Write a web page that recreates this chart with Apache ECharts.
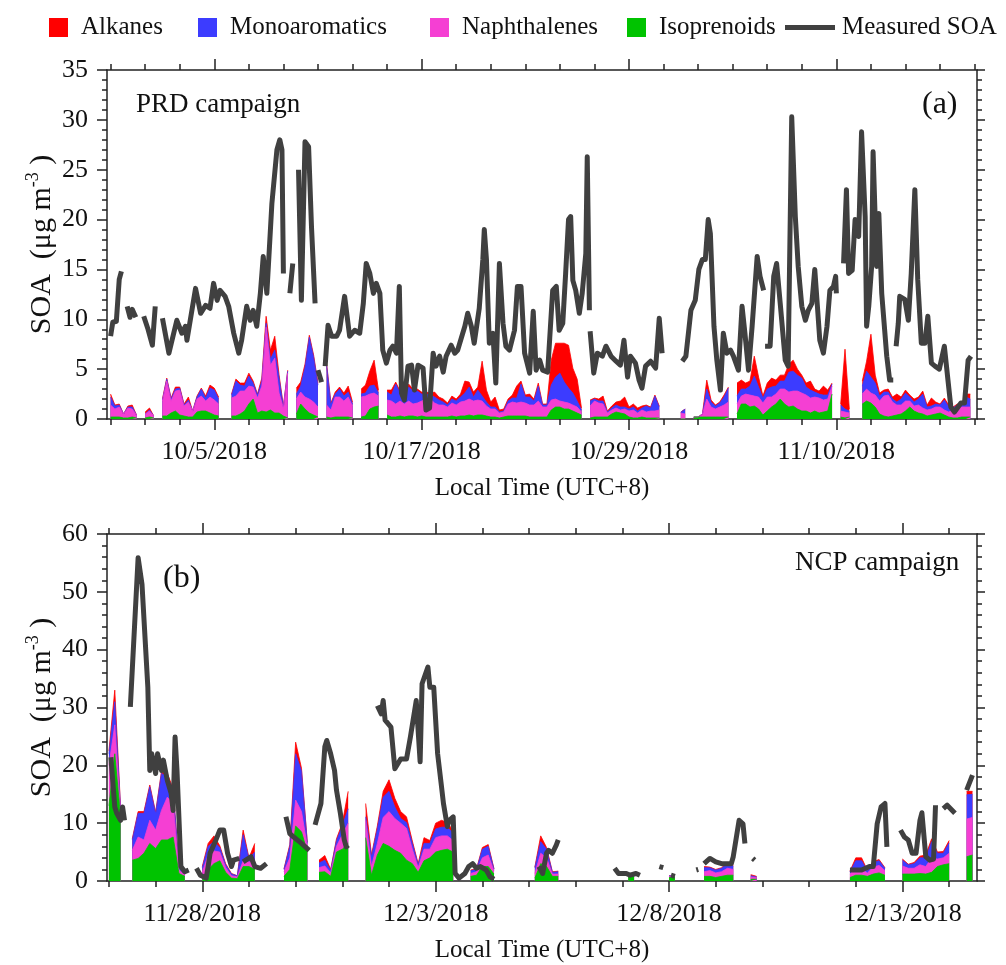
<!DOCTYPE html>
<html><head><meta charset="utf-8">
<script src="https://cdn.jsdelivr.net/npm/echarts@6/dist/echarts.min.js"></script>
<style>html,body{margin:0;padding:0;background:#fff}#c{width:1006px;height:965px}</style>
</head><body><div id="c"></div>
<script>
const _ = null;

// ---------- PRD campaign (panel a) ----------
// modelled SOA components, one value every 6 h starting 2018-09-29 00:00 local time
const prdStart = '9/29/2018';
const prdStepHours = 6;
const prdIsoprenoids = [
 .2,.2,.2,.1,.1,.2,.1,_,.1,.2,.1,_,.3,.3,.6,.8,.4,.3,.2,.2,
 .7,.8,.8,.6,.4,.3,_,_,.3,.3,.5,.8,1.5,2,.6,.8,.7,.9,.6,.6,
 .3,.1,_,.5,1.5,1,.6,.4,.2,_,.2,.1,.2,.2,.2,.2,.1,_,.2,.3,
 1,1.2,1.3,_,.4,.2,.2,.3,.2,.3,.3,.2,.3,.2,.2,.2,.2,.2,.2,.3,
 .2,.3,.3,.4,.3,.4,.4,.3,.2,.2,.1,.2,.3,.3,.3,.3,.3,.2,.2,.2,
 .2,.2,.9,1.2,1.2,1,1,.8,.6,.4,_,.1,.2,.2,.2,.2,.5,.7,.6,.5,
 .2,.1,.1,.2,.1,.1,.1,.1,_,_,_,_,0,0,_,.2,.2,.2,.2,.2,
 .2,.2,.2,.2,_,.5,1.5,1.5,1.2,1.3,1,.4,.8,1.2,1.5,2,1.5,1.2,1.3,1,
 .8,.8,.6,.8,.6,.7,.8,2.5,_,.2,.1,.2,_,_,1.5,1.8,1.6,1.2,.5,.3,
 .2,.3,.4,.5,.8,1.2,.8,.6,.5,.3,.4,.5,.6,.4,.2,.1,.1,.2,.2,.2];
const prdNaphthalenes = [
 1.2,.8,1,.4,1,.8,.3,_,.4,.6,.2,_,1.5,3.5,1.2,2,2.5,1,1.5,.6,
 1.3,1.5,1,1.6,1.5,1.2,_,_,1.8,2,2.3,2,1.8,1.2,1.5,2.5,8.5,4.5,5.5,2,
 .8,4.5,_,1.5,1.2,1.2,1.4,1.3,1,_,1.2,.8,2,2,1.6,2,1.2,_,2,2,
 1.5,1.4,1,_,1.5,1.6,1.3,1.5,1.3,1.5,1.2,1.4,1.5,1.8,1.8,1.4,1.2,1.2,1,1.3,
 1.2,1.4,1.5,1.6,1.5,1.5,1.4,1,.8,.8,.5,.5,1.2,1.4,1.3,1.4,1.3,1.2,1.2,1.6,
 1,1,1,.8,.6,.7,.6,.6,.6,.3,_,1.2,1.6,1.4,1.3,.4,.4,.4,.3,.5,
 .6,.8,.5,.7,.6,.7,.7,.8,_,_,_,_,.6,.5,_,0,0,.3,1.8,1,
 .8,1,1.2,1.5,_,1,.8,1,1.2,1,1.2,1.2,1.4,1,1,1,1.5,1.5,1.5,1.8,
 1.8,1.6,1.5,1.4,1.5,1.2,1.2,.8,_,.6,.6,.4,_,_,1,1.2,1,1.2,1.3,2,
 2.2,1.4,1,.9,1,.6,.5,.8,.6,.6,.6,.7,.6,.5,.5,.8,1,1,1,1];
const prdMonoaromatics = [
 .8,.3,.2,0,.1,.2,0,_,0,.1,0,_,.1,.2,.2,.2,.2,.1,.2,0,
 .2,.7,.3,.9,1,.5,_,_,.3,1.5,.6,.5,1,.4,.3,.5,.4,.6,.8,1.5,
 .1,.2,_,.5,.6,3,6.2,4.5,2.2,_,4,.6,.3,.8,.5,.5,.2,_,.3,.3,
 .8,.8,.3,_,.8,.6,2,.8,.5,1.4,1.3,1.2,.7,.5,.4,.6,.5,.3,.2,.4,
 .4,.5,.8,1.2,.4,1,.5,.4,.2,.2,.1,.1,.3,.4,.5,1.8,.6,.8,.4,1.5,
 .2,.2,1.5,2.2,2.8,2,1.5,1.2,.6,.2,_,.5,.2,.2,.3,.1,.2,.3,.3,.2,
 .2,.3,.2,.2,.6,.3,1.5,.3,_,_,_,_,.1,.5,_,0,0,0,1,.5,
 .3,.4,.8,1.4,_,.8,.7,.5,.9,2,1,.5,.8,1,.8,.8,.8,2,2,1.6,
 1.5,.8,.8,.5,.4,.5,.4,.2,_,.6,.3,.2,_,_,.8,1.8,1.6,1.2,.5,.4,
 .3,.3,.3,.6,.8,.4,.4,.6,1.4,.3,.3,.3,.2,1,.5,.2,.3,.2,1,.8];
const prdAlkanes = [
 .3,.1,.1,0,.1,.2,0,_,.2,.2,0,_,.1,.1,.1,.2,.1,.1,.3,0,
 .1,.1,.2,.3,.2,.2,_,_,.1,.2,.2,.3,.3,.2,.1,.3,.7,.9,1.4,.3,
 .1,.1,_,.6,.4,.3,.2,.2,.2,_,.2,.1,.2,.2,.3,.6,.2,_,.5,.8,
 1.5,2.5,.3,_,.2,.5,.2,.2,.3,.3,.2,.2,.2,.2,.2,.5,.3,.3,.2,.3,
 .2,.3,1.2,.5,.5,.3,3.5,1.2,.5,1,.2,.2,.2,.3,1.2,.3,.2,.3,.2,.3,
 .1,.1,2.5,3.4,3,3.9,4.3,2.5,2.2,.2,_,.1,.1,.2,.5,.1,.2,.3,.6,1,
 .2,.3,.3,.2,.1,.1,.1,.1,_,_,_,_,0,0,_,0,0,0,.9,.2,
 .1,.1,.2,.1,_,1.3,.9,.6,.5,2,1,.2,.6,.9,.6,.6,.6,.8,1.1,.6,
 .3,.4,.9,.3,.3,.9,.5,.1,_,.1,6,.2,_,_,.5,1,4.3,.8,.3,.2,
 .3,.2,.8,.2,.3,.2,.3,.2,.3,.2,.8,.2,.1,.2,.2,.1,.1,.1,.3,.5];
// measured SOA: [hours after prdStart, µg m-3]; _ marks a data gap
const prdMeasuredSOA = [
 [0,8.3],[3,9.7],[8,9.8],[12,14],[15,14.8],_,
 [23,11.3],[27,10.2],[30,11],[35,10.2],_,
 [46,10.3],[52,9],[58,7.4],[62,11.3],_,
 [72,10.1],[81,6.6],[92,9.9],[99,8.6],[104,9.3],[106,7.9],[118,13.1],[125,10.6],[132,11.4],[138,11.1],[143,13.6],[148,11.9],[152,12.9],[159,12.3],[164,11.3],[171,8.6],[178,6.6],[182,7.9],[189,11.3],[194,9.9],[198,10.9],[203,9.3],[208,12.6],[212,16.3],[217,12.6],[224,21.6],[231,27],[235,28],[238,27],[240,14.6],_,
 [249,12.6],[253,15.6],_,
 [261,25],[265,11.9],[270,27.8],[275,27.3],[279,19.3],[284,11.6],_,
 [288,4.9],[293,3.7],_,
 [298,5.3],[302,9.4],[307,8.3],[314,8.3],[318,8.9],[325,12.3],[332,8.3],[339,8.9],[346,8.6],[351,11.6],[355,15.6],[360,14.6],[365,12.6],[369,13.6],[374,12.6],[378,6.9],[383,5.6],[388,6.9],[392,7.3],[397,6.6],[401,13.3],[404,2.6],[408,1.9],[413,5.3],[418,5.4],[422,2.9],[427,5.4],[434,5.1],[438,.9],[443,1.1],[448,6.6],[452,5.3],[457,6.3],[462,4.7],[466,6.3],[473,7.4],[478,6.6],[482,6.9],[492,9.3],[496,10.6],[501,9.3],[505,7.6],[512,11.1],[517,16],[519,19],[522,16],[526,7.6],[531,8.6],[535,3.6],[540,15.6],[545,9.6],[549,7.3],[554,6.9],[561,8.9],[565,13.3],[570,13.3],[575,6.6],[582,4.6],[587,10.8],[591,4.9],[596,5.9],[600,4.9],[607,4.7],[614,12.9],[619,13.3],[623,8.9],[628,9.6],[632,14.6],[636,20],[639,20.3],[642,13.9],[646,12.9],[651,10.6],[655,12.6],[660,16.6],[662,26.3],[665,10.9],_,
 [666,8.8],[671,4.6],[676,6.6],[683,6.3],[688,7.3],[695,6.3],[702,5.8],[708,5.4],[713,7.9],[718,4.2],[722,6.3],[729,5.6],[734,3.9],[738,3.1],[743,5.3],[750,5.8],[757,5.1],[762,10.1],[766,6.6],_,
 [794,5.8],[799,6.3],[806,10.9],[812,11.9],[817,15],[822,16],[826,16],[830,20],[833,18.6],[838,9.3],[842,5.9],[847,2.9],[851,8.6],[856,6.6],[861,6.9],[865,6.3],[872,4.9],[877,11.3],[881,8.6],[886,4.9],[891,9.3],[898,16.3],[902,14.3],[907,12.9],_,
 [909,7.3],[916,7.3],[921,14.3],[925,15.6],[930,11.6],[937,5.9],[941,5.3],[946,30.3],[951,20.3],[955,15.3],[960,11.3],[965,9.9],[969,10.9],[974,11.6],[978,15],[981,12],[985,7.9],[990,6.6],[995,9.3],[999,12.9],[1004,13.3],[1007,14.3],[1008,12.6],_,
 [1018,15.6],[1022,23],[1025,14.6],[1030,14.9],[1034,20],[1039,18.3],[1043,28.8],[1048,20.3],[1050,9.3],[1053,11.3],[1057,15.3],[1059,26.8],[1064,15.3],[1067,20.6],[1071,12.6],[1078,6.3],[1082,3.9],[1087,3.9],_,
 [1091,7.3],[1094,9.6],[1096,12.3],[1103,12],[1108,9.9],[1112,14.6],[1117,23],[1121,14],[1126,7.6],[1131,7.6],[1135,10.3],[1140,5.6],[1145,5.3],[1151,5],[1158,7.3],[1163,3.9],[1167,1.2],[1172,.7],[1177,1.2],[1181,1.6],[1186,1.6],[1191,5.9],[1195,6.3]];
const prdTickLabels = ['10/5/2018','10/17/2018','10/29/2018','11/10/2018'];

// ---------- NCP campaign (panel b) ----------
// modelled SOA components, one value every 3 h starting 2018-11-26 00:00 local time
const ncpStart = '11/26/2018';
const ncpStepHours = 3;
const ncpIsoprenoids = [
 13,22,11,_,3.6,3.9,4.8,6.5,5.6,7.1,
 7.1,7.6,1.3,.8,_,_,.5,2,3,3.5,
 1.5,.5,.4,2.5,2.5,2,_,_,_,_,
 .8,2,9.5,8.5,5,_,1.5,1.6,.8,5,
 5.5,6.5,_,_,7.5,1,4.5,6.5,6,5.3,
 4.8,3.6,3,1.5,3.5,4,5,5.3,5.5,5,
 _,_,.8,1,2.5,2.5,1.2,_,_,_,
 _,_,_,.5,3,2.5,.8,.8,_,_,
 _,_,_,_,_,_,_,_,_,1,
 1,_,_,_,_,_,.6,.6,_,_,
 _,_,.8,.8,.6,.8,1,1,_,_,
 .3,.3,_,_,_,_,_,_,_,_,
 _,_,_,_,_,_,_,.6,1,1,
 .8,1.2,1.4,1,_,_,1.2,1.2,1.2,1.3,
 1.2,1.5,2.5,2.8,3,_,_,4.2,4.5];
const ncpNaphthalenes = [
 7,5,.8,_,1.7,3.7,2.3,4,3.2,5.1,
 7.4,5.8,.6,.3,_,_,1,2.5,2.2,1.5,
 .8,.4,.3,1,.8,1.5,_,_,_,_,
 .8,2,4.5,3.5,1,_,.8,1,.6,1,
 2.5,3.5,_,_,3,1.5,2,4.5,6,5.5,
 5.2,5.5,2.5,.8,2,1.5,2.5,2.5,2.3,2,
 _,_,.5,.6,1.5,2,.5,_,_,_,
 _,_,_,.8,1.8,1.5,.4,.4,_,_,
 _,_,_,_,_,_,_,_,_,0,
 0,_,_,_,_,_,.2,.2,_,_,
 _,_,.8,1,.8,.8,1.2,1,_,_,
 .4,.3,_,_,_,_,_,_,_,_,
 _,_,_,_,_,_,_,.6,1.2,1,
 .6,1.2,1.3,.8,_,_,1.4,1,1,1.5,
 1.3,2.5,1.3,1.2,1.8,_,_,6.5,6.5];
const ncpMonoaromatics = [
 2,4,.5,_,1.8,4.1,4.6,5.8,2.9,6.4,
 3.5,2.3,.6,.1,_,_,.8,1.5,1.6,.8,
 .5,.3,.2,4.5,.5,1.5,_,_,_,_,
 .4,2,8,7,.5,_,.8,1,.4,1,
 1.5,2.5,_,_,.6,1.7,2.5,3.5,3.5,2,
 .8,1,1,.5,1,1,1.5,1.5,1.5,1.2,
 _,_,.5,.4,1.5,1.5,.3,_,_,_,
 _,_,_,1,2,1.5,.3,.4,_,_,
 _,_,_,_,_,_,_,_,_,0,
 0,_,_,_,_,_,.1,.1,_,_,
 _,_,.7,.5,.5,.6,.8,.6,_,_,
 .2,.1,_,_,_,_,_,_,_,_,
 _,_,_,_,_,_,_,.4,1.3,1.5,
 .3,.8,.8,.4,_,_,1,.6,.8,1.2,
 1.5,2.8,1,.8,1.8,_,_,4.2,4];
const ncpAlkanes = [
 .5,2,.3,_,.2,.3,.3,.3,.2,.3,
 .6,.3,.1,0,_,_,.2,.5,1,.3,
 .2,.1,0,.8,.2,1.5,_,_,_,_,
 .1,.3,2,.5,.2,_,.5,.8,.2,.3,
 .5,3,_,_,2.3,.3,.5,1,2,1.5,
 1.2,1,.4,.2,1,.5,1,1.2,.8,.5,
 _,_,.1,.1,.3,.3,.1,_,_,_,
 _,_,_,.1,1,.3,.1,.1,_,_,
 _,_,_,_,_,_,_,_,_,0,
 0,_,_,_,_,_,0,0,_,_,
 _,_,.2,.1,.1,.1,.2,.2,_,_,
 .2,.1,_,_,_,_,_,_,_,_,
 _,_,_,_,_,_,_,.1,.5,.5,
 .1,.2,.2,.1,_,_,.2,.1,.2,.3,
 .5,.5,.2,.3,.4,_,_,.6,.5];
const ncpMeasuredSOA = [
 [1,21.4],[3,12.8],[4,11.7],[6,10.5],[7,12.8],[8,10.5],_,
 [11,30.1],[15,55.9],[16,55.6],[17,51.3],[20,33.5],[21,19.1],[22,22],[24,18.6],[25,22],[27,19.1],[28,20.9],[30,17.4],[32,15.1],[33,12.2],[34,24.9],[35,19.1],[37,2.5],[39,1.6],[41,1.9],_,
 [45,2.2],[47,1],[50,.5],[51,2.5],[52,4.8],[55,7.1],[57,8.8],[59,8.8],[61,4.8],[63,2.5],[64,3.6],[67,3.9],_,
 [69,3.3],[73,4.2],[75,2.5],[78,2.2],[81,3],_,
 [91,11.1],[93,8.2],[95,7.6],[99,6.5],[103,5.3],_,
 [106,9.7],[109,13.4],[111,23.2],[112,24.3],[114,22],[116,19.1],[117,15.7],[119,11.7],[121,7.1],[122,5.9],[123,6.2],_,
 [138,30.3],[140,28.9],[141,31.2],[142,27.8],[145,26.6],[147,19.4],[150,21.1],[153,21.1],[155,24.9],[158,31.2],[160,20.6],[161,34.1],[164,37],[165,33.5],[167,33.5],[169,22],[171,16.3],[172,13.4],[174,9.4],[175,10.5],[177,11.1],[178,1.3],[180,.5],[183,1.3],[185,2.5],[187,3],[189,2.2],[191,2.5],[194,1.9],[196,.7],[198,.3],_,
 [221,2.5],[223,1.3],[225,4.8],[226,5.3],[228,4.8],[230,6.2],[231,7.1],_,
 [260,2.2],[262,1.3],[266,1.3],[268,1],[271,1.3],[273,1],_,
 [283,2.5],[285,2.3],_,
 [289,1],[291,.8],_,
 [302,1.9],[303,2],_,
 [306,3],[309,3.9],[312,3.3],[315,3],[320,3],[321,4.2],[324,10.5],[326,9.9],[327,6.5],_,
 [331,3.9],[332,3.6],_,
 [381,1.9],[384,1.9],[387,1.9],[391,2.5],[393,2.5],[395,9.9],[397,12.8],[399,13.4],[400,5.9],_,
 [407,8.8],[409,7.6],[411,7.1],[413,4.8],[415,4.8],[417,10.5],[418,11.8],[420,4.2],[422,3.6],[424,3.8],[425,13.1],_,
 [429,12.5],[431,13.1],[432,12.8],[435,11.7],_,
 [441,15.7],[444,18.3]];
const ncpTickLabels = ['11/28/2018','12/3/2018','12/8/2018','12/13/2018'];

// ---------- helpers ----------
const HOUR = 3600e3, DAY = 24 * HOUR;
const FONT = '"Liberation Serif","Times New Roman",serif';
const INK = '#111111';
const AXIS = '#222222';
const COLOR = {Alkanes:'#ff0000', Monoaromatics:'#3c3cff', Naphthalenes:'#f53fd3', Isoprenoids:'#00c300', 'Measured SOA':'#404040'};
function parseDate(s){ const [m,d,y] = s.split('/').map(Number); return Date.UTC(y, m-1, d); }
function fmtDate(v){ const d = new Date(v); return (d.getUTCMonth()+1) + '/' + d.getUTCDate() + '/' + d.getUTCFullYear(); }
function lineSeries(start, arr){ const t0 = parseDate(start); return arr.map(p => p ? [t0 + p[0]*HOUR, p[1]] : '-'); }
function range(a, b, step){ const r=[]; for(let t=a; t<=b+1; t+=step) r.push(t); return r; }

const prdMin = parseDate('9/28/2018') + 19*HOUR, prdMax = parseDate('11/18/2018') + 3.33*HOUR;
const ncpMin = parseDate('11/25/2018') + 23*HOUR, ncpMax = parseDate('12/14/2018') + 14.33*HOUR;
const prdMajor = prdTickLabels.map(parseDate);
const prdMinor = range(parseDate('9/29/2018'), prdMax, 2*DAY);
const ncpMajor = ncpTickLabels.map(parseDate);
const ncpMinor = range(parseDate('11/26/2018'), ncpMax, DAY);

const tickLine = {color: AXIS, width: 1.5};
function xAxes(grid, min, max, major, minor){
  const base = {type:'value', gridIndex:grid, min, max, splitLine:{show:false},
    axisLine:{show:true, onZero:false, lineStyle:{color:AXIS, width:1.5}}};
  return [
    Object.assign({}, base, {position:'bottom',
      axisTick:{show:true, customValues:major, length:11, lineStyle:tickLine},
      axisLabel:{show:true, customValues:major, formatter:fmtDate, margin:20, fontFamily:FONT, fontSize:26, color:INK},
      name:'Local Time (UTC+8)', nameLocation:'middle', nameGap:57, nameMoveOverlap:false,
      nameTextStyle:{fontFamily:FONT, fontSize:25, color:INK}}),
    Object.assign({}, base, {position:'bottom', axisLine:{show:false, onZero:false},
      axisTick:{show:true, customValues:minor, length:6, lineStyle:tickLine}, axisLabel:{show:false}}),
    Object.assign({}, base, {position:'top',
      axisTick:{show:true, customValues:major, length:11, lineStyle:tickLine}, axisLabel:{show:false}}),
    Object.assign({}, base, {position:'top', axisLine:{show:false, onZero:false},
      axisTick:{show:true, customValues:minor, length:6, lineStyle:tickLine}, axisLabel:{show:false}})
  ];
}
const yName = '{a|SOA  (μg m}{s|-3}{a| )}';
function yAxes(grid, max, interval){
  const base = {type:'value', gridIndex:grid, min:0, max, interval, splitLine:{show:false},
    axisLine:{show:true, onZero:false, lineStyle:{color:AXIS, width:1.5}},
    axisTick:{show:true, length:10, lineStyle:tickLine},
    minorTick:{show:true, splitNumber:5, length:5, lineStyle:tickLine}, minorSplitLine:{show:false}};
  return [
    Object.assign({}, base, {position:'left',
      axisLabel:{show:true, margin:19, fontFamily:FONT, fontSize:26, color:INK},
      name:yName, nameLocation:'middle', nameRotate:90, nameGap:47, nameMoveOverlap:false,
      nameTextStyle:{rich:{
        a:{fontFamily:FONT, fontSize:30, color:INK, lineHeight:36},
        s:{fontFamily:FONT, fontSize:18, color:INK, lineHeight:14, verticalAlign:'top'}}}}),
    Object.assign({}, base, {position:'right', axisTick:{show:true, length:8, lineStyle:tickLine}, axisLabel:{show:false}})
  ];
}

// Components are layered: each drawn area is the running total up to that component,
// painted top-most total first so that lower components overlay it (stack order:
// Isoprenoids at the bottom, then Naphthalenes, Monoaromatics, Alkanes on top).
const stackOrder = ['Isoprenoids','Naphthalenes','Monoaromatics','Alkanes'];
function cumulative(arrays){
  const n = arrays[0].length, out = arrays.map(() => []);
  for (let i = 0; i < n; i++) {
    let s = 0, gap = false;
    for (let k = 0; k < arrays.length; k++) {
      const v = arrays[k][i];
      if (v == null) gap = true; else s += v;
      out[k].push(gap ? null : +s.toFixed(3));
    }
  }
  return out;
}
function panelSeries(start, step, arrays, soa, xi, yi){
  const t0 = parseDate(start);
  const cum = cumulative(arrays);
  const out = [];
  for (let k = stackOrder.length - 1; k >= 0; k--) {
    const name = stackOrder[k];
    out.push({
      type:'line', name, xAxisIndex:xi, yAxisIndex:yi,
      data: cum[k].map((v,i) => [t0 + i*step*HOUR, v == null ? '-' : v]),
      showSymbol:false, symbol:'none', connectNulls:false, z:2,
      lineStyle:{width:0.8, color:COLOR[name]}, itemStyle:{color:COLOR[name]},
      areaStyle:{color:COLOR[name], opacity:1, origin:'start'}, emphasis:{disabled:true}
    });
  }
  out.push({type:'line', name:'Measured SOA', xAxisIndex:xi, yAxisIndex:yi,
    data: lineSeries(start, soa), showSymbol:false, symbol:'none', connectNulls:false, z:5,
    lineStyle:{width:5, color:COLOR['Measured SOA'], join:'round', cap:'butt'},
    itemStyle:{color:COLOR['Measured SOA']}, emphasis:{disabled:true}});
  return out;
}

function legendItem(name, left, w, h, pad){
  return {left, top:10, orient:'horizontal', icon:'rect', itemWidth:w, itemHeight:h, selectedMode:false,
    data:[{name, icon:'rect'}],
    textStyle:{fontFamily:FONT, fontSize:25, color:INK, padding:[0,0,0,pad]}};
}

const chart = echarts.init(document.getElementById('c'), null, {renderer:'canvas'});
chart.setOption({
  animation:false,
  backgroundColor:'#ffffff',
  textStyle:{fontFamily:FONT},
  legend:[
    legendItem('Alkanes', 44, 19, 19, 8),
    legendItem('Monoaromatics', 193, 19, 19, 8),
    legendItem('Naphthalenes', 425, 19, 19, 8),
    legendItem('Isoprenoids', 622, 19, 19, 8),
    legendItem('Measured SOA', 780, 50, 5, 2)
  ],
  grid:[
    {left:107, top:70, width:870, height:349, outerBoundsMode:'none', containLabel:false},
    {left:107, top:534, width:870, height:347, outerBoundsMode:'none', containLabel:false}
  ],
  xAxis: xAxes(0, prdMin, prdMax, prdMajor, prdMinor).concat(xAxes(1, ncpMin, ncpMax, ncpMajor, ncpMinor)),
  yAxis: yAxes(0, 35, 5).concat(yAxes(1, 60, 10)),
  series: panelSeries(prdStart, prdStepHours, [prdIsoprenoids, prdNaphthalenes, prdMonoaromatics, prdAlkanes], prdMeasuredSOA, 0, 0)
    .concat(panelSeries(ncpStart, ncpStepHours, [ncpIsoprenoids, ncpNaphthalenes, ncpMonoaromatics, ncpAlkanes], ncpMeasuredSOA, 4, 2)),
  graphic:[
    {type:'text', left:136, top:91, style:{text:'PRD campaign', font:'27px "Liberation Serif"', fill:INK}},
    {type:'text', left:922, top:89, style:{text:'(a)', font:'32px "Liberation Serif"', fill:INK}},
    {type:'text', left:163, top:563, style:{text:'(b)', font:'32px "Liberation Serif"', fill:INK}},
    {type:'text', left:795, top:549, style:{text:'NCP campaign', font:'27px "Liberation Serif"', fill:INK}}
  ]
});
</script></body></html>
